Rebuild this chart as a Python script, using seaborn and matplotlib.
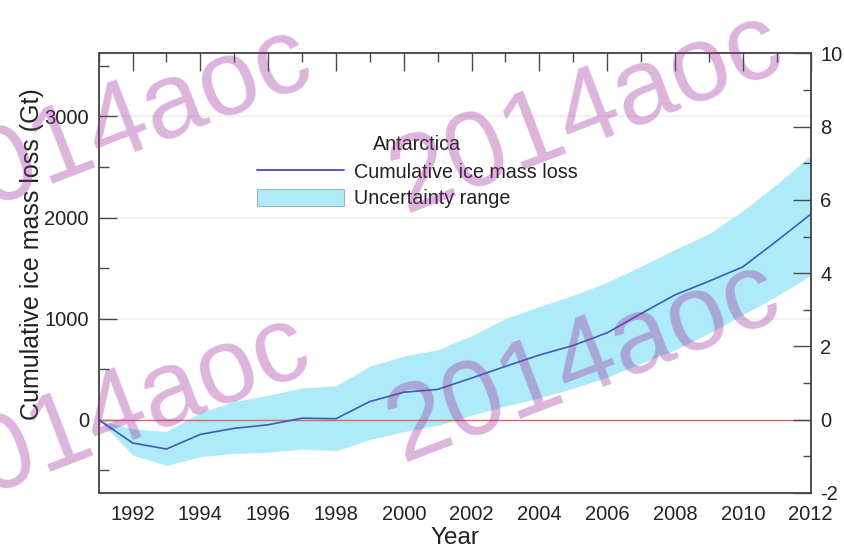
import numpy as np
import pandas as pd
import matplotlib
matplotlib.use("Agg")
import matplotlib.pyplot as plt
from matplotlib.ticker import MultipleLocator, FuncFormatter
from matplotlib.patches import Patch
from matplotlib.lines import Line2D
import seaborn as sns

# Antarctic cumulative ice mass loss (Gt), with uncertainty bounds
years = list(range(1991, 2013))
loss_mid = [0, -230, -290, -145, -85, -50, 15, 10, 180, 272, 300, 412,
            528, 640, 735, 860, 1050, 1235, 1370, 1512, 1768, 2032]
loss_high = [0, -92, -115, 70, 180, 242, 315, 335, 530, 630, 692, 830,
             1000, 1120, 1230, 1360, 1520, 1685, 1840, 2065, 2330, 2615]
loss_low = [0, -348, -454, -365, -333, -322, -290, -308, -195, -118, -55, 45,
            135, 215, 312, 420, 560, 690, 855, 1040, 1222, 1425]

region_name = "Antarctica"
line_label = "Cumulative ice mass loss"
band_label = "Uncertainty range"
x_label = "Year"
y_label = "Cumulative ice mass loss (Gt)"
watermark = "2014aoc"

GT_PER_MM = 362.5  # Gt of ice per mm of sea level equivalent

df = pd.DataFrame({"year": years, "mid": loss_mid,
                   "low": loss_low, "high": loss_high})

sns.set_theme(style="white")
plt.rcParams["font.family"] = ["Liberation Sans", "DejaVu Sans"]

W, H = 844, 550
fig = plt.figure(figsize=(W / 100, H / 100), dpi=100)
L, R, T, B = 98.7, 810.6, 53.3, 493.0
ax = fig.add_axes([L / W, 1 - B / H, (R - L) / W, (B - T) / H])

line_color = "#3d5cb8"
band_color = "#aeeaf8"
spine_color = "#4a4a4a"
text_color = "#222222"

# faint horizontal guides at the labelled Gt levels
for g in (1000, 2000, 3000):
    ax.axhline(g, color="#efefef", lw=1.2, zorder=0.5)

ax.fill_between(df["year"], df["low"], df["high"], color=band_color,
                lw=0, zorder=1)
ax.axhline(0, color="#d66a62", lw=1.0, zorder=2)
sns.lineplot(data=df, x="year", y="mid", ax=ax, color=line_color,
             lw=1.2, zorder=3, legend=False)

ax.set_xlim(1991, 2012)
ax.set_ylim(-725, 3625)
ax.set_xlabel(x_label, fontsize=17.5, labelpad=1.5, color=text_color)
ax.set_ylabel(y_label, fontsize=18, color=text_color)
ax.yaxis.set_label_coords((44 - L) / (R - L), (B - 254) / (B - T))

ax.xaxis.set_major_locator(MultipleLocator(2))
ax.xaxis.set_minor_locator(MultipleLocator(1))
ax.yaxis.set_major_locator(MultipleLocator(1000))
ax.yaxis.set_minor_locator(MultipleLocator(500))
ax.tick_params(axis="both", which="both", direction="in", color=spine_color,
               width=1.0, labelsize=14.5, labelcolor=text_color)
ax.tick_params(axis="x", which="major", length=13, pad=9, top=True)
ax.tick_params(axis="x", which="minor", length=6.5, top=True)
ax.tick_params(axis="y", which="major", length=13, pad=7, right=False)
ax.tick_params(axis="y", which="minor", length=7, right=False)

# sea-level-equivalent scale on the right
ax2 = ax.twinx()
ax2.set_ylim(-725 / GT_PER_MM, 3625 / GT_PER_MM)
ax2.yaxis.set_major_locator(MultipleLocator(2))
ax2.yaxis.set_minor_locator(MultipleLocator(1))
ax2.yaxis.set_major_formatter(FuncFormatter(lambda v, p: f"{v:.0f}".replace("\u2212", "-")))
ax2.tick_params(axis="y", which="both", direction="in", color=spine_color,
                width=1.0, labelsize=14.5, labelcolor=text_color)
ax2.tick_params(axis="y", which="major", length=13, pad=7)
ax2.tick_params(axis="y", which="minor", length=6)

for a in (ax, ax2):
    for s in a.spines.values():
        s.set_color(spine_color)
        s.set_linewidth(1.1)

handles = [Line2D([0], [0], color="#5553d8", lw=1.4),
           Patch(facecolor=band_color, edgecolor="#9ab8c0", lw=0.8)]
leg = ax.legend(handles, [line_label, band_label], title=region_name,
                loc="upper left", bbox_to_anchor=(257 / W, 1 - 135 / H),
                bbox_transform=fig.transFigure, frameon=False,
                fontsize=14.2, title_fontsize=14.2, handlelength=4.4,
                handleheight=1.0, handletextpad=0.5, labelspacing=0.35,
                borderpad=0, borderaxespad=0)
leg._legend_box.sep = 6
leg.get_title().set_color(text_color)
for t in leg.get_texts():
    t.set_color(text_color)

# repeated translucent watermark
wm_color = (158 / 255, 47 / 255, 158 / 255)
for px, py in [(402, 462), (405, 213), (-68, 515), (-66, 227)]:
    fig.text(px / W, 1 - py / H, watermark, fontsize=77, color=wm_color,
             alpha=0.36, rotation=21, rotation_mode="anchor",
             ha="left", va="baseline", zorder=10)

fig.savefig("out.png", dpi=100)
